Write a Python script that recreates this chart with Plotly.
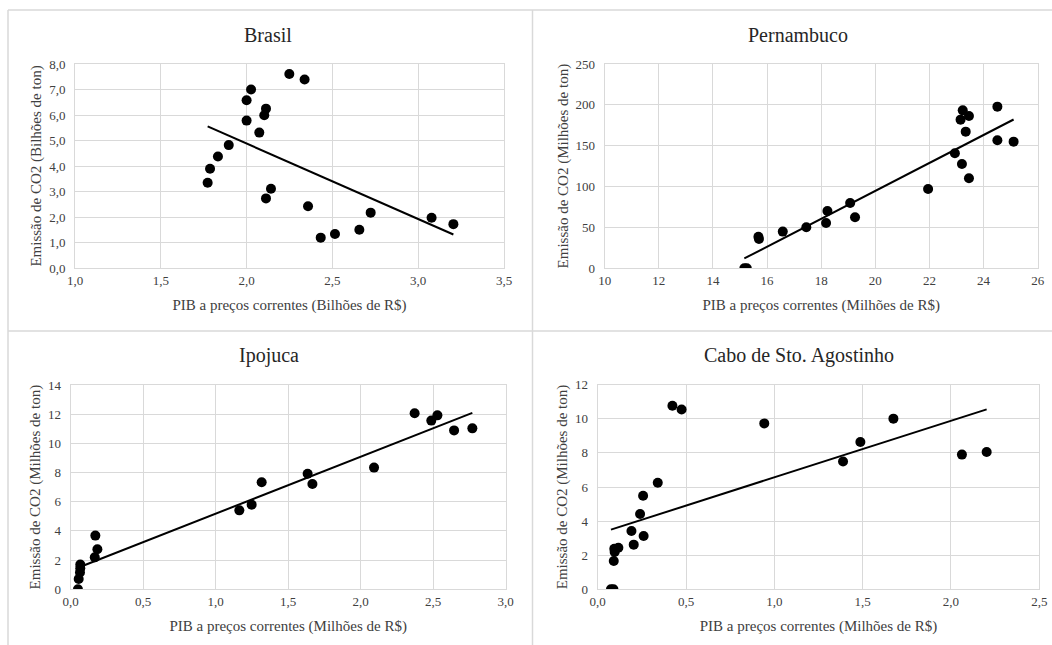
import numpy as np
import plotly.graph_objects as go

# ---------------- data ----------------
brasil_pib = [1.773, 1.787, 1.833, 1.896, 2.000, 2.000, 2.026, 2.074, 2.103, 2.113, 2.113,
              2.142, 2.249, 2.338, 2.358, 2.432, 2.515, 2.657, 2.723, 3.078, 3.205]
brasil_co2 = [3.34, 3.89, 4.37, 4.82, 5.78, 6.58, 7.00, 5.31, 5.99, 6.25, 2.73,
              3.11, 7.61, 7.39, 2.42, 1.19, 1.33, 1.50, 2.17, 1.97, 1.72]

pe_pib = [15.16, 15.25, 15.68, 15.70, 16.58, 17.45, 18.18, 18.23, 19.07, 19.25, 21.95,
          22.94, 23.15, 23.23, 23.20, 23.34, 23.46, 23.46, 24.51, 24.51, 25.11]
pe_co2 = [0, 0, 38.7, 35.9, 44.9, 50.2, 55.5, 70.1, 79.9, 62.4, 97.1,
          140.7, 181.9, 193.3, 127.7, 167.2, 186.4, 110.1, 197.8, 156.6, 155.0]

ipo_pib = [0.050, 0.055, 0.064, 0.066, 0.066, 0.166, 0.170, 0.184, 1.163, 1.248, 1.317,
           1.634, 1.667, 2.092, 2.372, 2.487, 2.529, 2.644, 2.770]
ipo_co2 = [0.0, 0.70, 1.15, 1.45, 1.70, 2.19, 3.68, 2.74, 5.41, 5.80, 7.33,
           7.92, 7.22, 8.34, 12.06, 11.56, 11.92, 10.89, 11.03]

cabo_pib = [0.075, 0.089, 0.091, 0.096, 0.094, 0.117, 0.191, 0.204, 0.240, 0.257, 0.260,
            0.340, 0.423, 0.475, 0.943, 1.389, 1.487, 1.674, 2.062, 2.202]
cabo_co2 = [0.0, 0.0, 1.66, 2.19, 2.38, 2.44, 3.42, 2.62, 4.42, 5.49, 3.13,
            6.25, 10.77, 10.55, 9.73, 7.50, 8.64, 10.01, 7.90, 8.05]

titles = ["Brasil", "Pernambuco", "Ipojuca", "Cabo de Sto. Agostinho"]
x_titles = ["PIB a preços correntes (Bilhões de R$)",
            "PIB a preços correntes (Milhões de R$)",
            "PIB a preços correntes (Milhões de R$)",
            "PIB a preços correntes (Milhões de R$)"]
y_titles = ["Emissão de CO2 (Bilhões de ton)",
            "Emissão de CO2 (Milhões de ton)",
            "Emissão de CO2 (Milhões de ton)",
            "Emissão de CO2 (Milhões de ton)"]
x_ranges = [[1.0, 3.5], [10, 26], [0, 3.0], [0, 2.5]]
x_dticks = [0.5, 2, 0.5, 0.5]
y_ranges = [[0, 8], [0, 250], [0, 14], [0, 12]]
y_dticks = [1, 50, 2, 2]
x_formats = [".1f", "d", ".1f", ".1f"]
y_formats = [".1f", "d", "d", "d"]

series = [(brasil_pib, brasil_co2), (pe_pib, pe_co2), (ipo_pib, ipo_co2), (cabo_pib, cabo_co2)]

# ---------------- layout geometry (window pixels) ----------------
W, H = 1052, 645
plot_px = [(75, 504, 64, 268), (604.7, 1037.7, 64, 268.3),
           (70.7, 505.7, 385, 589.3), (597.7, 1039.3, 384.7, 589.3)]
title_px = [(268, 35), (798, 35), (269, 355), (799, 355)]


def px_x(x):
    return x / W


def px_y(y):
    return 1 - y / H


FONT = '"Liberation Serif", "Times New Roman", Times, serif'
GRID = "#d9d9d9"

fig = go.Figure()
for i, ((xs, ys), (x0, x1, y0, y1)) in enumerate(zip(series, plot_px)):
    n = "" if i == 0 else str(i + 1)
    xa, ya = "x" + n, "y" + n
    fig.add_trace(go.Scatter(x=xs, y=ys, mode="markers", xaxis=xa, yaxis=ya,
                             marker=dict(color="black", size=10), showlegend=False,
                             hoverinfo="x+y"))
    # linear trendline (least squares), drawn over data range
    a, b = np.polyfit(xs, ys, 1)
    tx = np.array([min(xs), max(xs)])
    fig.add_trace(go.Scatter(x=tx, y=a * tx + b, mode="lines", xaxis=xa, yaxis=ya,
                             line=dict(color="black", width=2), showlegend=False,
                             hoverinfo="skip"))
    common = dict(showgrid=True, gridcolor=GRID, gridwidth=1, showline=True, linecolor=GRID,
                  linewidth=1, mirror=True, zeroline=False, ticks="", automargin=False,
                  tickfont=dict(family=FONT, size=13, color="#404040"),
                  title_font=dict(family=FONT, size=15, color="#404040"))
    fig.layout["xaxis" + n] = dict(common, domain=[px_x(x0), px_x(x1)], anchor=ya,
                                   range=x_ranges[i], dtick=x_dticks[i], tick0=0,
                                   tickformat=x_formats[i], title=dict(text=x_titles[i], standoff=12))
    fig.layout["yaxis" + n] = dict(common, domain=[px_y(y1), px_y(y0)], anchor=xa,
                                   range=y_ranges[i], dtick=y_dticks[i], tick0=0,
                                   tickformat=y_formats[i], ticklabelstandoff=6,
                                   title=dict(text=y_titles[i], standoff=3))
    tx_, ty_ = title_px[i]
    fig.add_annotation(x=px_x(tx_), y=px_y(ty_), xref="paper", yref="paper",
                       xanchor="center", yanchor="middle",
                       text=titles[i], showarrow=False,
                       font=dict(family=FONT, size=20, color="#262626"))

# panel borders
line_style = dict(color=GRID, width=1.5)
for (ax0, ay0, ax1, ay1) in [(8, 10, 1052, 10), (8, 10, 8, 645), (532.5, 10, 532.5, 645),
                             (8, 331, 1052, 331)]:
    fig.add_shape(type="line", xref="paper", yref="paper",
                  x0=px_x(ax0), x1=px_x(ax1), y0=px_y(ay0), y1=px_y(ay1), line=line_style)

fig.update_layout(width=W, height=H, margin=dict(l=0, r=0, t=0, b=0, autoexpand=False),
                  paper_bgcolor="white", plot_bgcolor="white", separators=", ",
                  font=dict(family=FONT))
fig.write_html("out.html", config={"displayModeBar": False},
               post_script="document.documentElement.style.margin='0';"
                           "document.body.style.margin='0';"
                           "document.body.style.overflow='hidden';"
                           "document.documentElement.style.overflow='hidden';")
